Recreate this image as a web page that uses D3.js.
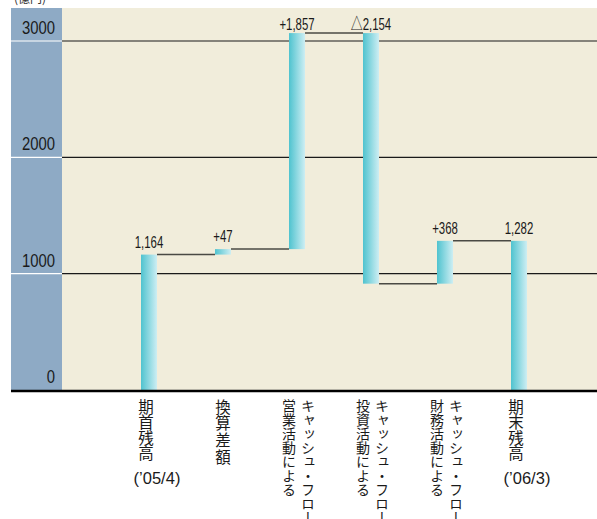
<!DOCTYPE html>
<html><head><meta charset="utf-8">
<script src="https://cdn.jsdelivr.net/npm/d3@7"></script>
<style>
html,body{margin:0;padding:0;background:#fff;}
svg{display:block;}
</style></head>
<body>
<svg id="chart" width="597" height="519"></svg>
<script>
const categories = ["open","fx","op","inv","fin","close"];
const colMain = ["期首残高","換算差額","キャッシュ・フロー","キャッシュ・フロー","キャッシュ・フロー","期末残高"];
const colSub = ["","","営業活動による","投資活動による","財務活動による",""];
const dateLabels = ["(’05/4)","","","","","(’06/3)"];
const values = [1164, 47, 1857, -2154, 368, 1282];
const isTotal = [true, false, false, false, false, true];
const valueLabels = ["1,164","+47","+1,857","△2,154","+368","1,282"];
const yTicks = [0, 1000, 2000, 3000];
const unitLabel = "(億円)";

const svg = d3.select("#chart");
const W = 597;
const panelL = 11, plotL = 62, plotTop = 8;
const y = d3.scaleLinear().domain([0, 3000]).range([390, 41]);
const x = d3.scalePoint().domain(categories).range([149, 519]);
const bw = 16;
const latin = "'Liberation Sans',Arial,sans-serif";
const jp = "'Noto Sans CJK JP',sans-serif";

// running totals
let run = 0;
const bars = categories.map((c, i) => {
  let s, e;
  if (isTotal[i]) { s = 0; e = values[i]; }
  else { s = run; e = run + values[i]; }
  run = e;
  return {c, s, e, i};
});

// backgrounds
svg.append("rect").attr("x", panelL).attr("y", plotTop).attr("width", plotL - panelL).attr("height", y(0) - plotTop).attr("fill", "#8eaac5");
svg.append("rect").attr("x", plotL).attr("y", plotTop).attr("width", W - plotL).attr("height", y(0) - plotTop).attr("fill", "#f1eddb");

// unit label
svg.append("text").attr("x", 14).attr("y", 3).attr("font-family", jp).attr("font-size", 12).attr("fill", "#333").text(unitLabel);

// gridlines
yTicks.filter(t => t > 0).forEach(t => {
  svg.append("line").attr("x1", panelL).attr("x2", plotL).attr("y1", y(t)).attr("y2", y(t)).attr("stroke", "#fff").attr("stroke-width", 1.2);
  svg.append("line").attr("x1", plotL).attr("x2", W).attr("y1", y(t)).attr("y2", y(t)).attr("stroke", "#1a1a1a").attr("stroke-width", 1.2);
});
// tick labels (condensed)
svg.selectAll(".tick").data(yTicks).join("text")
  .attr("transform", d => `translate(55,${y(d) - 7}) scale(0.84,1)`)
  .attr("text-anchor", "end")
  .attr("font-family", latin)
  .attr("font-size", 17.7).attr("fill", "#1a1a1a")
  .text(d => d);

// gradient
const defs = svg.append("defs");
const g = defs.append("linearGradient").attr("id", "barGrad").attr("x1", "0").attr("x2", "1").attr("y1", "0").attr("y2", "0");
g.append("stop").attr("offset", "0").attr("stop-color", "#4fc3cf");
g.append("stop").attr("offset", "1").attr("stop-color", "#cdeef3");

// connectors
bars.slice(0, -1).forEach((b, i) => {
  const nb = bars[i + 1];
  svg.append("line")
    .attr("x1", x(b.c) + bw / 2).attr("x2", x(nb.c) - bw / 2)
    .attr("y1", y(b.e)).attr("y2", y(b.e))
    .attr("stroke", "#4a4a44").attr("stroke-width", 1.5);
});

// bars
svg.selectAll(".bar").data(bars).join("rect")
  .attr("x", d => x(d.c) - bw / 2)
  .attr("y", d => y(Math.max(d.s, d.e)))
  .attr("width", bw)
  .attr("height", d => Math.abs(y(d.s) - y(d.e)))
  .attr("fill", "url(#barGrad)");

// value labels (condensed)
const vl = svg.selectAll(".vl").data(bars).join("text")
  .attr("transform", d => `translate(${x(d.c)},${Math.max(30, y(Math.max(d.s, d.e)) - 7)}) scale(0.7,1)`)
  .attr("text-anchor", "middle")
  .attr("font-family", latin)
  .attr("font-size", 16.3).attr("fill", "#1a1a1a");
vl.each(function(d, i) {
  const t = d3.select(this);
  const s = valueLabels[i];
  if (s.startsWith("△")) {
    t.append("tspan").attr("font-family", jp).attr("font-size", 17).text("△");
    t.append("tspan").text(s.slice(1));
  } else {
    t.text(s);
  }
});

// axis baseline
svg.append("line").attr("x1", panelL).attr("x2", W).attr("y1", y(0) + 1).attr("y2", y(0) + 1).attr("stroke", "#000").attr("stroke-width", 2.5);

// category labels (vertical)
categories.forEach((c, i) => {
  const cx = x(c);
  if (colSub[i]) {
    svg.append("text").attr("x", cx + 11).attr("y", 399)
      .attr("style", "writing-mode: vertical-rl").attr("font-family", jp).attr("font-size", 14).attr("fill", "#1a1a1a")
      .text(colMain[i]);
    svg.append("text").attr("x", cx - 8).attr("y", 399)
      .attr("style", "writing-mode: vertical-rl").attr("font-family", jp).attr("font-size", 14).attr("fill", "#1a1a1a")
      .text(colSub[i]);
  } else {
    svg.append("text").attr("x", cx - (dateLabels[i] ? 3 : 0)).attr("y", 399)
      .attr("style", "writing-mode: vertical-rl").attr("font-family", jp).attr("font-size", 15.5)
      .attr("letter-spacing", dateLabels[i] ? 0 : 1.2).attr("fill", "#1a1a1a")
      .text(colMain[i]);
    if (dateLabels[i]) {
      svg.append("text").attr("x", cx + 8).attr("y", 484).attr("text-anchor", "middle")
        .attr("font-family", latin).attr("font-size", 16.5).attr("fill", "#1a1a1a")
        .text(dateLabels[i]);
    }
  }
});
</script>
</body></html>
